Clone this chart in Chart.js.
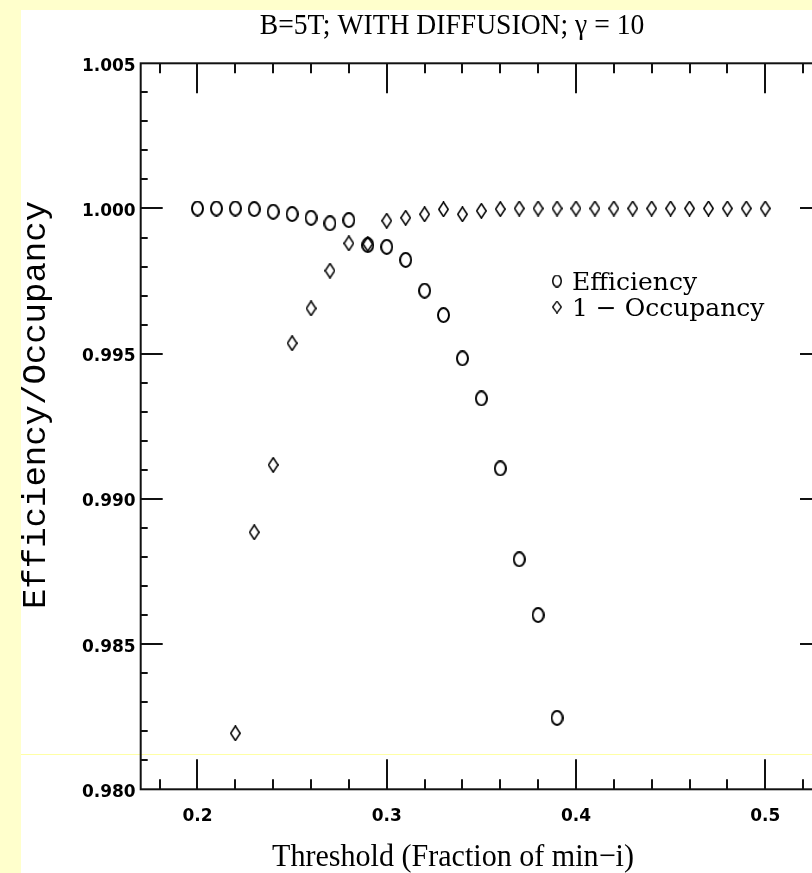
<!DOCTYPE html>
<html>
<head>
<meta charset="utf-8">
<title>B=5T; WITH DIFFUSION</title>
<script src="https://cdn.jsdelivr.net/npm/chart.js@4.4.1/dist/chart.umd.min.js"></script>
<style>
  html, body { margin: 0; padding: 0; width: 812px; height: 873px; overflow: hidden; background: #ffffcc; }
  #paper  { position: absolute; left: 21px; top: 10px; width: 900px; height: 900px; background: #ffffff; }
  #streak { position: absolute; left: 21px; top: 754px; width: 800px; height: 1px; background: #ffffa6; }
  #wrap   { position: absolute; left: 0; top: 0; width: 830px; height: 873px; }
</style>
</head>
<body>
<div id="paper"></div>
<div id="streak"></div>
<div id="wrap"><canvas id="chart" width="830" height="873"></canvas></div>
<script>
// Threshold scan, B = 5 T with diffusion, gamma = 10
const effThreshold = [0.20, 0.21, 0.22, 0.23, 0.24, 0.25, 0.26, 0.27, 0.28, 0.29,
                      0.30, 0.31, 0.32, 0.33, 0.34, 0.35, 0.36, 0.37, 0.38, 0.39];
const efficiency   = [1.00000, 1.00000, 1.00000, 0.99998, 0.99989, 0.99981, 0.99968, 0.99949, 0.99960, 0.99874,
                      0.99868, 0.99823, 0.99717, 0.99633, 0.99484, 0.99346, 0.99105, 0.98792, 0.98600, 0.98246];

const occThreshold = [0.22, 0.23, 0.24, 0.25, 0.26, 0.27, 0.28, 0.29, 0.30, 0.31,
                      0.32, 0.33, 0.34, 0.35, 0.36, 0.37, 0.38, 0.39, 0.40, 0.41,
                      0.42, 0.43, 0.44, 0.45, 0.46, 0.47, 0.48, 0.49, 0.50];
const oneMinusOcc  = [0.98193, 0.98885, 0.99117, 0.99536, 0.99656, 0.99786, 0.99880, 0.99878, 0.99958, 0.99968,
                      0.99980, 0.99997, 0.99980, 0.99992, 0.99998, 1.00000, 1.00000, 1.00000, 1.00000, 1.00000,
                      1.00000, 1.00000, 1.00000, 1.00000, 1.00000, 1.00000, 1.00000, 1.00000, 1.00000];

const xTickValues = [0.2, 0.3, 0.4, 0.5];
const yTickValues = [0.980, 0.985, 0.990, 0.995, 1.000, 1.005];

const seriesNames = ['Efficiency', '1 \u2212 Occupancy'];
const titleText  = 'B=5T; WITH DIFFUSION; \u03B3 = 10';
const xTitleText = 'Threshold (Fraction of min\u2212i)';
const yTitleText = 'Efficiency/Occupancy';

// hollow marker sprites
function ovalSprite(w, h, lw) {
  const c = document.createElement('canvas');
  c.width = w; c.height = h;
  const g = c.getContext('2d');
  g.strokeStyle = '#000'; g.lineWidth = lw;
  g.beginPath();
  g.ellipse(w / 2, h / 2, w / 2 - lw / 2, h / 2 - lw / 2, 0, 0, Math.PI * 2);
  g.stroke();
  return c;
}
function diamondSprite(w, h, lw) {
  const c = document.createElement('canvas');
  c.width = w; c.height = h;
  const g = c.getContext('2d');
  g.strokeStyle = '#000'; g.lineWidth = lw; g.lineJoin = 'miter';
  g.beginPath();
  g.moveTo(w / 2, lw / 2);
  g.lineTo(w - lw / 2, h / 2);
  g.lineTo(w / 2, h - lw / 2);
  g.lineTo(lw / 2, h / 2);
  g.closePath();
  g.stroke();
  return c;
}
const ovalMark = ovalSprite(13, 16, 2);
const diamondMark = diamondSprite(11, 16, 1.5);
const ovalKey = ovalSprite(10, 13, 1.5);
const diamondKey = diamondSprite(10, 13, 1.3);

// frame with inward ticks on all four sides
const frameTicks = {
  id: 'frameTicks',
  afterDatasetsDraw(chart) {
    const { ctx, chartArea: a, scales: { x, y } } = chart;
    ctx.save();
    ctx.strokeStyle = '#111';
    ctx.lineWidth = 2;
    ctx.strokeRect(a.left, a.top, a.right - a.left, a.bottom - a.top);
    ctx.beginPath();
    for (let i = 9; i <= 26; i++) {
      const px = Math.round(x.getPixelForValue(i * 0.02));
      const len = (i % 5 === 0) ? 30 : 10;
      ctx.moveTo(px, a.bottom); ctx.lineTo(px, a.bottom - len);
      ctx.moveTo(px, a.top);    ctx.lineTo(px, a.top + len);
    }
    for (let i = 981; i <= 1004; i++) {
      const py = Math.round(y.getPixelForValue(i / 1000));
      const len = (i % 5 === 0) ? 22 : 7;
      ctx.moveTo(a.left, py);  ctx.lineTo(a.left + len, py);
      ctx.moveTo(a.right, py); ctx.lineTo(a.right - len, py);
    }
    ctx.stroke();
    ctx.restore();
  }
};

// title, axis titles and in-plot key
const captions = {
  id: 'captions',
  afterDraw(chart) {
    const ctx = chart.ctx;
    ctx.save();
    ctx.fillStyle = '#000';
    ctx.textBaseline = 'alphabetic';
    ctx.textAlign = 'center';

    // narrow, tall serif lettering for the heading
    ctx.save();
    ctx.translate(452, 34);
    ctx.scale(0.92, 1);
    ctx.font = '30px "Liberation Serif"';
    ctx.fillText(titleText, 0, 0);
    ctx.restore();

    ctx.save();
    ctx.translate(453, 866);
    ctx.scale(0.94, 1);
    ctx.font = '32px "Liberation Serif"';
    ctx.fillText(xTitleText, 0, 0);
    ctx.restore();

    ctx.save();
    ctx.translate(45, 405);
    ctx.rotate(-Math.PI / 2);
    ctx.font = '34px "Liberation Mono"';
    ctx.fillText(yTitleText, 0, 0);
    ctx.restore();

    ctx.textAlign = 'left';
    ctx.font = '25px "DejaVu Serif"';
    const sprites = [ovalKey, diamondKey];
    const rows = [281, 307];
    sprites.forEach((img, k) => {
      ctx.drawImage(img, 557 - img.width / 2, rows[k] - img.height / 2);
      ctx.fillText(seriesNames[k], 572, rows[k] + 9);
    });
    ctx.restore();
  }
};

const tickFont = { family: 'DejaVu Sans', size: 17, weight: 'bold' };

new Chart(document.getElementById('chart'), {
  type: 'scatter',
  data: {
    datasets: [
      {
        label: seriesNames[0],
        data: effThreshold.map((t, i) => ({ x: t, y: efficiency[i] })),
        pointStyle: ovalMark,
        pointRadius: 7,
        showLine: false
      },
      {
        label: seriesNames[1],
        data: occThreshold.map((t, i) => ({ x: t, y: oneMinusOcc[i] })),
        pointStyle: diamondMark,
        pointRadius: 7,
        showLine: false
      }
    ]
  },
  options: {
    responsive: false,
    animation: false,
    devicePixelRatio: 1,
    layout: { padding: { top: 63.3, right: 7, left: 0, bottom: 0 } },
    plugins: { legend: { display: false }, tooltip: { enabled: false } },
    scales: {
      x: {
        type: 'linear', min: 0.17, max: 0.53,
        afterBuildTicks: s => { s.ticks = xTickValues.map(v => ({ value: v })); },
        afterFit: s => { s.height = 873 - 789.3; },
        grid: { display: false, drawTicks: false },
        border: { display: false },
        ticks: { padding: 17, color: '#000', font: tickFont, maxRotation: 0, autoSkip: false,
                 callback: v => Number(v).toFixed(1) }
      },
      y: {
        type: 'linear', min: 0.980, max: 1.005,
        afterBuildTicks: s => { s.ticks = yTickValues.map(v => ({ value: v })); },
        afterFit: s => { s.width = 140.7; },
        grid: { display: false, drawTicks: false },
        border: { display: false },
        ticks: { padding: 5, labelOffset: 3, color: '#000', font: tickFont, autoSkip: false,
                 callback: v => Number(v).toFixed(3) }
      }
    }
  },
  plugins: [frameTicks, captions]
});
</script>
</body>
</html>
